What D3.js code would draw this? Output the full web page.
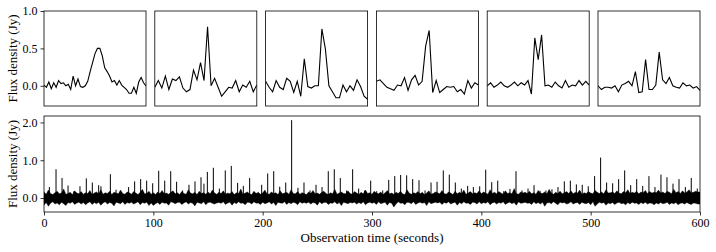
<!DOCTYPE html>
<html>
<head>
<meta charset="utf-8">
<script src="https://cdn.jsdelivr.net/npm/d3@7"></script>
<style>
  body { margin: 0; background: #fff; }
  svg text { font-family: "Liberation Serif", "DejaVu Serif", serif; fill: #000; }
</style>
</head>
<body>
<script>
// --- data ---

// six zoomed pulse windows (Jy), one array per panel
var pulse1 = [0.01,-0.02,0.05,-0.04,0.04,-0.02,0.07,0.03,0.04,0.0,0.02,-0.05,0.13,0.0,0.09,-0.01,-0.02,0.0,0.06,0.19,0.31,0.43,0.50,0.50,0.40,0.24,0.19,0.13,0.05,0.07,0.01,0.07,0.01,-0.02,-0.05,-0.10,-0.10,-0.02,-0.10,0.05,0.11,0.04,0.0];
var pulse2 = [-0.02,0.07,-0.03,0.13,-0.05,0.09,0.07,0.12,-0.03,-0.08,-0.05,0.21,0.08,0.31,0.07,0.79,0.0,0.10,-0.02,-0.14,-0.08,-0.02,-0.03,0.07,-0.08,0.01,-0.02,0.06,-0.08,0.01];
var pulse3 = [0.06,-0.02,-0.08,0.07,-0.02,-0.05,0.10,0.06,-0.09,0.06,-0.14,0.36,-0.01,-0.03,0.0,0.0,0.76,0.49,0.0,-0.08,-0.16,-0.16,0.01,-0.08,0.0,-0.06,0.08,-0.01,-0.14,-0.18];
var pulse4 = [0.06,0.08,0.03,-0.02,-0.04,-0.06,0.01,0.0,0.11,-0.06,0.08,0.14,0.01,0.06,0.53,0.74,-0.09,0.07,-0.09,-0.05,-0.01,-0.02,-0.01,-0.08,-0.05,-0.11,0.07,-0.03,0.04,0.01];
var pulse5 = [0.0,0.04,-0.02,0.01,0.05,0.0,-0.02,0.01,0.05,0.0,0.04,0.01,0.07,-0.11,0.64,0.35,0.68,0.0,0.01,-0.02,0.05,0.0,-0.03,0.07,-0.02,0.01,0.0,0.07,0.01,0.06,0.01];
var pulse6 = [0.0,-0.05,-0.02,-0.02,-0.03,0.0,-0.08,0.01,0.03,0.06,0.0,0.19,-0.09,-0.08,0.35,-0.05,-0.05,0.01,0.45,0.08,0.03,0.11,0.0,-0.02,-0.03,0.04,0.0,0.01,-0.03,-0.01,-0.06];
var pulses = [pulse1, pulse2, pulse3, pulse4, pulse5, pulse6];

// single pulses in the full observation: time (s) and peak (Jy)
var spikeTimes = [4.9,11.0,16.5,22.0,27.4,32.9,38.7,44.2,50.0,52.1,60.7,65.9,77.4,82.9,88.4,93.9,99.4,104.9,110.4,115.9,121.3,126.8,132.6,138.1,143.6,146.3,149.4,154.9,160.4,165.8,171.3,177.1,
  182.3,188.1,199.1,204.6,210.1,215.6,221.1,226.5,232.3,237.8,243.3,248.8,254.3,260.0,265.5,271.0,276.8,282.3,287.8,293.3,298.8,304.3,309.8,315.3,320.8,326.2,331.7,337.2,343.0,348.5,354.0,359.5,365.2,370.7,376.2,381.7,387.5,
  392.7,398.5,404.0,409.5,415.0,420.5,426.2,431.7,437.2,442.7,448.2,453.7,459.1,464.6,470.1,475.9,481.4,486.9,492.3,497.8,503.6,509.1,514.6,520.1,525.6,531.1,536.6,542.1,547.6,553.3,558.8,564.3,569.8,575.3,580.8,586.6,592.0,597.5];
var spikePeaks = [0.29,0.76,0.53,0.33,0.18,0.31,0.52,0.41,0.34,0.31,0.63,0.22,0.29,0.44,0.50,0.46,0.39,0.72,0.46,0.71,0.43,0.20,0.35,0.44,0.55,0.38,0.69,0.80,0.25,0.73,0.85,0.40,
  0.32,0.53,0.35,0.65,0.71,0.30,0.41,2.06,0.27,0.41,0.20,0.35,0.29,0.71,0.76,0.53,0.20,0.76,0.25,0.20,0.46,0.18,0.20,0.48,0.58,0.61,0.60,0.50,0.47,0.20,0.41,0.43,0.73,0.62,0.41,0.25,0.32,
  0.29,0.31,0.75,0.42,0.46,0.18,0.24,0.71,0.20,0.25,0.34,0.19,0.20,0.23,0.29,0.44,0.46,0.36,0.35,0.31,0.58,1.07,0.41,0.39,0.50,0.73,0.34,0.50,0.32,0.58,0.29,0.62,0.55,0.38,0.50,0.29,0.53,0.25];

// noise envelope of the full series, one value every 2 s (hundredths of Jy)
var noiseStep = 2;
var noiseHi = [16,10,21,12,9,14,18,11,13,24,10,12,15,9,19,13,11,17,10,14,
  12,20,9,13,16,11,22,10,14,12,18,9,15,13,11,21,12,10,16,14,
  10,17,13,9,15,23,11,12,18,10,14,9,16,12,20,11,13,10,15,19,
  11,14,9,17,12,10,22,13,11,15,9,18,12,14,10,16,11,21,13,10,
  15,12,19,10,13,11,17,9,14,12,24,10,13,16,11,9,18,12,15,10,
  13,21,11,10,16,12,14,9,19,11,13,15,10,22,12,11,17,10,14,12,
  9,16,12,20,11,13,10,15,18,12,9,14,11,23,10,13,16,12,11,19,
  12,10,17,13,9,15,11,21,12,14,10,18,13,11,16,9,14,20,11,13,
  10,15,12,18,11,9,22,13,10,14,12,17,11,15,9,13,19,10,12,16,
  14,11,20,12,10,16,13,9,18,11,15,12,21,10,13,17,11,14,12,19,
  11,16,13,10,22,12,15,11,17,13,10,19,12,14,11,25,12,10,16,13,
  15,12,18,11,14,10,20,13,12,16,11,23,13,10,15,12,18,11,14,17,
  12,19,11,15,13,21,10,14,12,17,13,11,20,15,12,16,11,22,13,14,
  16,12,19,13,11,17,14,22,12,15,13,18,11,16,14,20,12,17,13,15,
  14,21,13,16,12,18,15,11,23,14,17,12,19,13,16,22,14,15,18,16];
var noiseLo = [19,12,22,14,10,16,13,18,11,15,20,12,14,10,17,13,11,16,12,18,
  13,10,17,12,15,11,19,13,10,16,12,14,21,11,13,15,10,17,12,14,
  11,16,13,10,18,12,14,11,20,13,20,15,12,17,11,14,13,19,10,12,
  15,12,11,17,13,10,16,12,14,21,11,13,15,10,18,12,11,14,16,13,
  12,14,10,17,13,11,19,12,15,10,14,13,18,11,12,16,10,14,13,17,
  11,15,13,10,16,12,20,11,13,14,10,17,12,15,11,13,18,10,14,12,
  14,11,16,12,13,19,10,15,12,11,17,13,14,10,16,12,20,11,13,15,
  12,13,11,16,12,15,10,18,13,11,14,12,17,10,15,13,11,19,12,14,
  24,16,10,14,13,18,11,12,15,10,17,13,11,14,12,20,10,15,13,11,
  13,11,17,12,14,10,16,13,11,19,12,15,10,14,13,17,11,12,16,10,
  15,12,14,10,18,13,11,16,12,14,10,17,13,11,15,12,19,10,14,13,
  11,14,13,17,10,15,12,16,11,22,13,12,15,10,14,18,11,13,12,16,
  14,10,16,13,12,17,11,14,15,12,18,10,22,16,11,14,12,19,13,15,
  12,17,13,11,15,14,18,12,16,11,14,13,17,12,15,11,16,13,14,18,
  13,16,12,15,14,11,17,13,15,12,18,14,13,16,12,15,17,13,14,16];

var topTicks = [0.0, 0.5, 1.0];
var bottomTicks = [0.0, 1.0, 2.0];
var timeTicks = [0, 100, 200, 300, 400, 500, 600];
var yLabel = 'Flux density (Jy)';
var xLabel = 'Observation time (seconds)';

// --- layout ---
var W = 716, H = 252;
var plotL = 44, plotR = 700;
var topY0 = 11, topY1 = 106;
var botY0 = 116, botY1 = 212;
var panelW = 102;
var panelGap = ((plotR - plotL) - pulses.length * panelW) / (pulses.length - 1);
var fontFam = '"Liberation Serif", "DejaVu Serif", serif';

var svg = d3.select('body').append('svg')
    .attr('width', W)
    .attr('height', H);

var defs = svg.append('defs');

// --- top row: zoomed pulses ---
var yTop = d3.scaleLinear().domain([-0.27, 1.0]).range([topY1, topY0]);

pulses.forEach(function(vals, i){
  var x0 = plotL + i * (panelW + panelGap);
  var x = d3.scaleLinear().domain([0, vals.length - 1]).range([x0, x0 + panelW]);

  defs.append('clipPath').attr('id', 'clipTop' + i)
    .append('rect').attr('x', x0).attr('y', topY0).attr('width', panelW).attr('height', topY1 - topY0);

  svg.append('path')
    .datum(vals)
    .attr('clip-path', 'url(#clipTop' + i + ')')
    .attr('fill', 'none')
    .attr('stroke', '#000')
    .attr('stroke-width', 1.1)
    .attr('d', d3.line().x(function(d, j){ return x(j); }).y(function(d){ return yTop(d); }));

  svg.append('rect')
    .attr('x', x0).attr('y', topY0)
    .attr('width', panelW).attr('height', topY1 - topY0)
    .attr('fill', 'none').attr('stroke', '#000').attr('stroke-width', 0.8);

  if(i == 0){
    var ax = svg.append('g')
      .attr('transform', 'translate(' + plotL + ',0)')
      .call(d3.axisLeft(yTop).tickValues(topTicks).tickFormat(d3.format('.1f')).tickSize(3.5).tickPadding(3));
    styleAxis(ax);
  }
});

// --- bottom: full observation ---
var xTime = d3.scaleLinear().domain([0, 600]).range([plotL, plotR]);
var yBot = d3.scaleLinear().domain([-0.37, 2.17]).range([botY1, botY0]);

defs.append('clipPath').attr('id', 'clipBot')
  .append('rect').attr('x', plotL).attr('y', botY0).attr('width', plotR - plotL).attr('height', botY1 - botY0);

var bot = svg.append('g').attr('clip-path', 'url(#clipBot)');

var noise = noiseHi.map(function(h, i){ return {t: i * noiseStep, hi: h / 100, lo: -noiseLo[i] / 100}; });
noise.push({t: 600, hi: noise[noise.length - 1].hi, lo: noise[noise.length - 1].lo});

bot.append('path')
  .datum(noise)
  .attr('fill', '#000')
  .attr('stroke', '#000')
  .attr('stroke-width', 0.4)
  .attr('d', d3.area()
    .x(function(d){ return xTime(d.t); })
    .y0(function(d){ return yBot(d.lo); })
    .y1(function(d){ return yBot(d.hi); }));

bot.selectAll('line.spike')
  .data(spikeTimes)
  .enter().append('line')
  .attr('class', 'spike')
  .attr('x1', function(d){ return xTime(d); })
  .attr('x2', function(d){ return xTime(d); })
  .attr('y1', yBot(0.05))
  .attr('y2', function(d, i){ return yBot(spikePeaks[i]); })
  .attr('stroke', '#000')
  .attr('stroke-width', 1);

svg.append('rect')
  .attr('x', plotL).attr('y', botY0)
  .attr('width', plotR - plotL).attr('height', botY1 - botY0)
  .attr('fill', 'none').attr('stroke', '#000').attr('stroke-width', 0.8);

var axY = svg.append('g')
  .attr('transform', 'translate(' + plotL + ',0)')
  .call(d3.axisLeft(yBot).tickValues(bottomTicks).tickFormat(d3.format('.1f')).tickSize(3.5).tickPadding(3));
styleAxis(axY);

var axX = svg.append('g')
  .attr('transform', 'translate(0,' + botY1 + ')')
  .call(d3.axisBottom(xTime).tickValues(timeTicks).tickFormat(d3.format('d')).tickSize(3.5).tickPadding(3));
styleAxis(axX);

// axis titles
[[topY0, topY1], [botY0, botY1]].forEach(function(r){
  svg.append('text')
    .attr('transform', 'translate(17,' + ((r[0] + r[1]) / 2) + ') rotate(-90)')
    .attr('text-anchor', 'middle')
    .style('font-family', fontFam)
    .style('font-size', '13px')
    .text(yLabel);
});

svg.append('text')
  .attr('x', (plotL + plotR) / 2)
  .attr('y', 242)
  .attr('text-anchor', 'middle')
  .style('font-family', fontFam)
  .style('font-size', '13px')
  .text(xLabel);

function styleAxis(g){
  g.select('.domain').remove();
  g.selectAll('.tick line').attr('stroke', '#000').attr('stroke-width', 0.8);
  g.selectAll('.tick text')
    .style('font-family', fontFam)
    .style('font-size', '12px')
    .attr('fill', '#000');
}
</script>
</body>
</html>
